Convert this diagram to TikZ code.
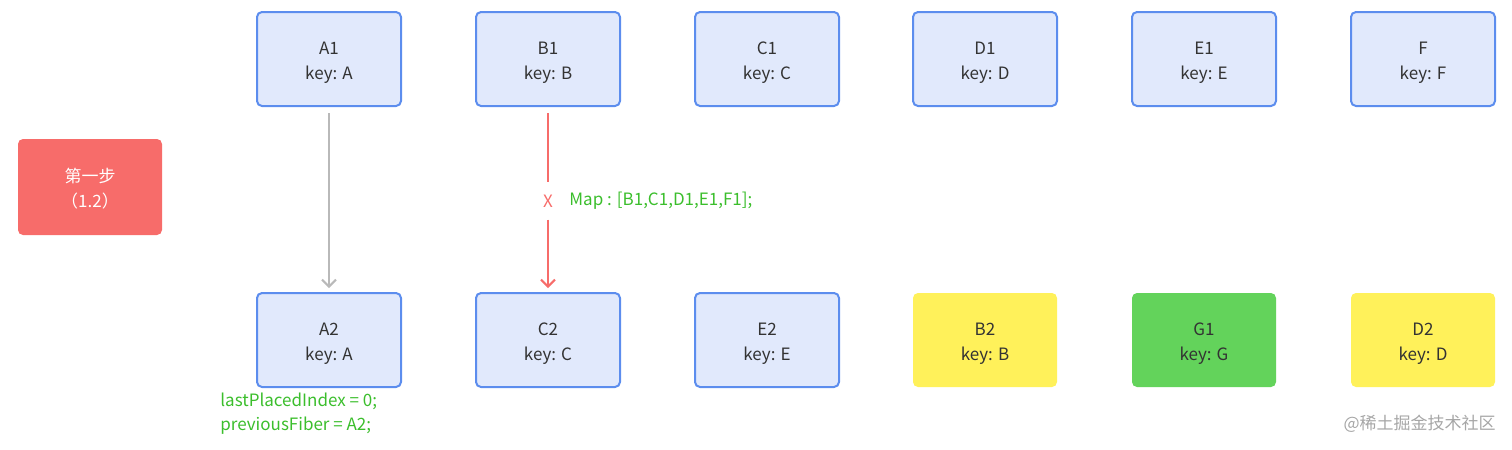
\documentclass[tikz,border=0pt]{standalone}
\usepackage{fontspec}
\setmainfont{Noto Sans CJK SC}
\usetikzlibrary{arrows.meta}
\definecolor{boxfill}{HTML}{E1E9FC}
\definecolor{boxline}{HTML}{5C8DEE}
\definecolor{stepred}{HTML}{F76C6A}
\definecolor{newyellow}{HTML}{FFF15A}
\definecolor{newgreen}{HTML}{63D35B}
\definecolor{notegreen}{HTML}{3BBE2C}
\definecolor{txt}{HTML}{333333}
\tikzset{
  fiber/.style={draw=boxline, fill=boxfill, line width=1pt, rounded corners=2.5pt,
    minimum width=72pt, minimum height=47pt, align=center, text=txt,
    text height=20pt, text depth=0pt},
  moved/.style={fiber, draw=none, fill=newyellow},
  added/.style={fiber, draw=none, fill=newgreen},
  stepbox/.style={fill=stepred, rounded corners=2.5pt, minimum width=72pt,
    minimum height=48pt, align=center, text=white, text height=20pt, text depth=0pt},
  note/.style={text=notegreen, anchor=west, inner sep=0pt},
  tip/.style={-{Straight Barb[length=3.5pt,width=7pt]}}
}
\begin{document}
\begin{tikzpicture}[x=0.5pt,y=-0.5pt,font=\fontsize{8.5}{12.5}\selectfont]
\useasboundingbox (0,0) rectangle (1512,450);
% left label
\node[stepbox] (step) at (90,187) {第一步\\（1.2）};
% old children
\node[fiber] (a1) at (329,59) {A1\\key: A};
\node[fiber] (b1) at (548,59) {B1\\key: B};
\node[fiber] (c1) at (767,59) {C1\\key: C};
\node[fiber] (d1) at (985,59) {D1\\key: D};
\node[fiber] (e1) at (1204,59) {E1\\key: E};
\node[fiber] (f1) at (1423,59) {F\\key: F};
% new children
\node[fiber] (a2) at (329,340) {A2\\key: A};
\node[fiber] (c2) at (548,340) {C2\\key: C};
\node[fiber] (e2) at (767,340) {E2\\key: E};
\node[moved] (b2) at (985,340) {B2\\key: B};
\node[added] (g1) at (1204,340) {G1\\key: G};
\node[moved] (d2) at (1423,340) {D2\\key: D};
% arrows
\draw[tip, gray!55, line width=1pt, shorten <=3pt, shorten >=2pt] (a1) -- (a2);
\node[text=stepred, inner sep=6pt] (cross) at (548,201) {X};
\draw[stepred, line width=1pt, shorten <=3pt] (b1) -- (cross);
\draw[tip, stepred, line width=1pt, shorten >=2pt] (cross) -- (c2);
\node[note] (map) at (569,201) {Map : [B1,C1,D1,E1,F1];};
% notes
\node[note] (idx) at (220,401) {lastPlacedIndex = 0;};
\node[note] (prev) at (220,426) {previousFiber = A2;};
\node[text=gray!70, anchor=east, inner sep=0pt] (mark) at (1496,424) {@稀土掘金技术社区};
\end{tikzpicture}
\end{document}
